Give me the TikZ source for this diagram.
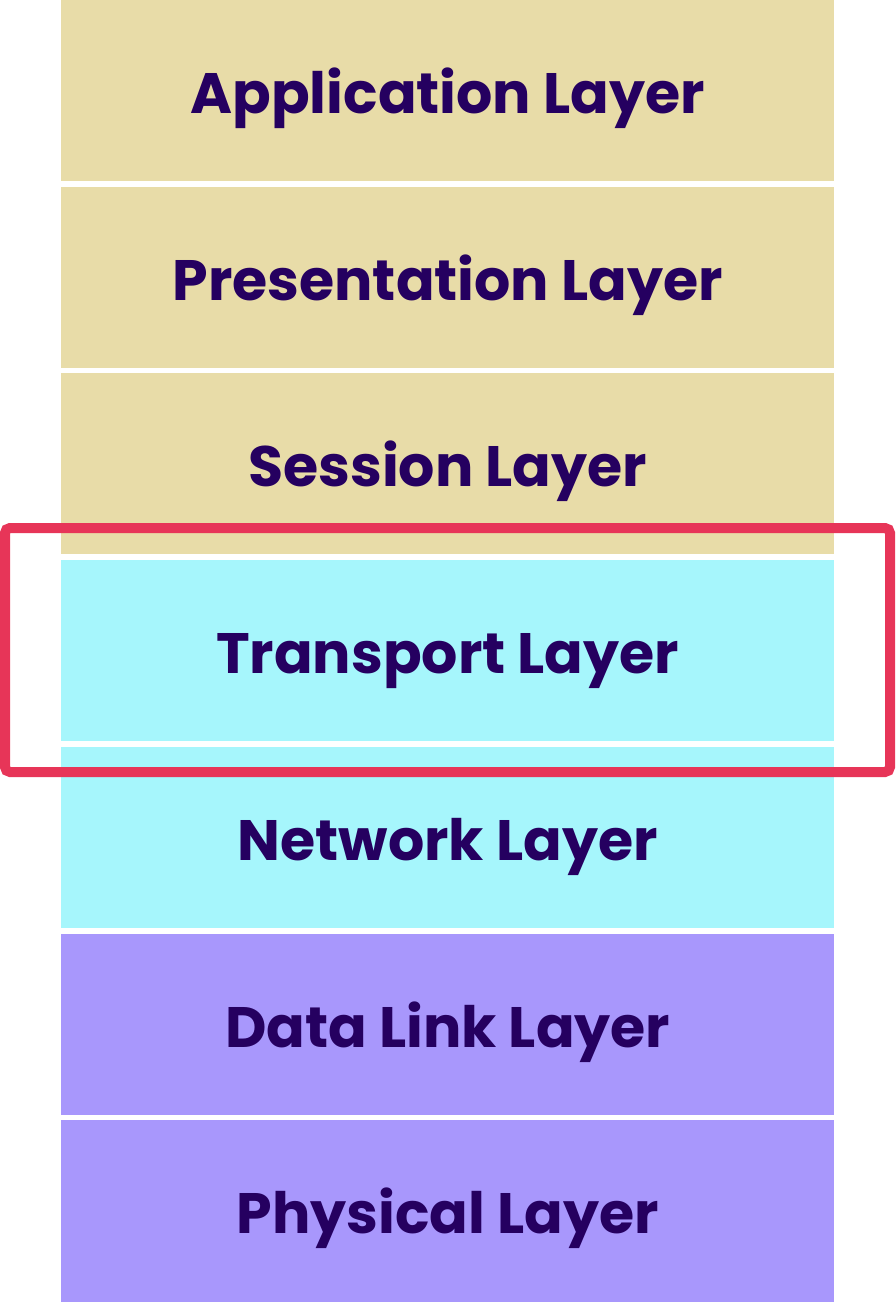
\documentclass[tikz,border=0pt]{standalone}
\usepackage{fontspec}
\setmainfont{Poppins}[BoldFont={* Bold}]
\definecolor{tanc}{HTML}{E8DCA8}
\definecolor{cyanc}{HTML}{A6F6FC}
\definecolor{purc}{HTML}{A897FC}
\definecolor{txtc}{HTML}{250060}
\definecolor{redc}{HTML}{E73558}
\begin{document}
\begin{tikzpicture}[x=1pt,y=-1pt,
  layer/.style={draw=none,minimum width=773pt,minimum height=181pt,inner sep=0pt,anchor=north west,
    text height=45pt,text depth=0pt,
    font=\fontsize{57}{66}\selectfont\bfseries,text=txtc}]
\useasboundingbox (0,0) rectangle (895,1302);
\node[layer,fill=tanc] (app) at (61,0) {Application Layer};
\node[layer,fill=tanc] (pres) at (61,187) {Presentation Layer};
\node[layer,fill=tanc] (sess) at (61,373) {Session Layer};
\node[layer,fill=cyanc] (trans) at (61,560) {Transport Layer};
\node[layer,fill=cyanc] (net) at (61,747) {Network Layer};
\node[layer,fill=purc] (dll) at (61,934) {Data Link Layer};
\node[layer,fill=purc,minimum height=182pt] (phys) at (61,1120) {Physical Layer};
\draw[redc,line width=10pt,rounded corners=5pt] (5,528) rectangle (890,772);
\end{tikzpicture}
\end{document}
